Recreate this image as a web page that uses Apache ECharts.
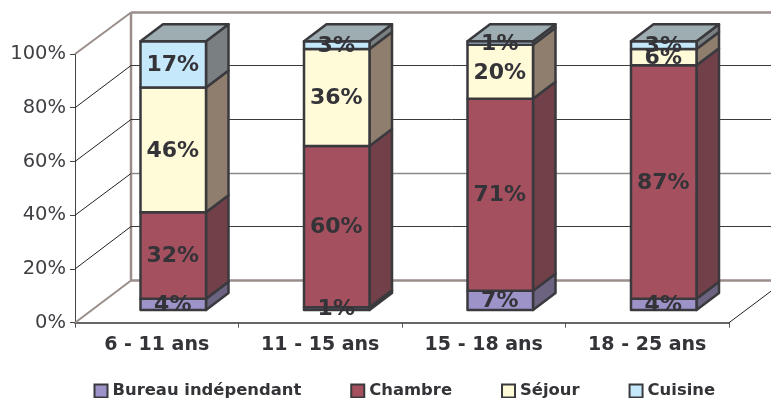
<!DOCTYPE html>
<html>
<head>
<meta charset="utf-8">
<style>html,body{margin:0;padding:0;background:#fff}#c{width:771px;height:398px}</style>
<script src="https://cdn.jsdelivr.net/npm/echarts@6/dist/echarts.min.js"></script>
</head>
<body>
<div id="c"></div>
<script>
const categories = ['6 - 11 ans', '11 - 15 ans', '15 - 18 ans', '18 - 25 ans'];
const bureau = [4.2, 1.0, 7.2, 4.2];
const chambre = [32.2, 60.0, 71.4, 86.9];
const sejour = [46.4, 36.1, 20.1, 6.0];
const cuisine = [17.2, 2.9, 1.3, 2.9];
const tickValues = [0, 20, 40, 60, 80, 100];

const names = ['Bureau indépendant', 'Chambre', 'Séjour', 'Cuisine'];
const values = [bureau, chambre, sejour, cuisine];
const fronts = ['#9E93C8', '#A5505F', '#FFFAD8', '#C5E9FB'];
const sides = ['#6C6380', '#714049', '#8F7E6E', '#7A8081'];
const topFace = '#9EADB1';
const edge = '#3A3A3E';
const textColor = '#333338';
const wallColor = '#9A8E8A';
const FONT = '"DejaVu Sans", Verdana, sans-serif';

const WALL_DX = 56, WALL_DY = 42;
const BAR_DX = 16.5, BAR_DY = 12.7, BAR_HALF = 32.75, DEPTH_DX = 22.5, DEPTH_DY = 17;

const chart = echarts.init(document.getElementById('c'), null, {renderer: 'canvas'});

function line(x1, y1, x2, y2, color, width) {
  return {type: 'line', shape: {x1, y1, x2, y2}, style: {stroke: color, lineWidth: width}, silent: true};
}

function renderWall(params, api) {
  const cs = params.coordSys;
  const v = api.value(0);
  const y = api.coord([0, v])[1];
  const x0 = cs.x, x1 = cs.x + cs.width;
  const strong = v === 0 || v === 100;
  const yBack = Math.floor(y - WALL_DY) + 0.5;
  const children = [
    line(x0, y, x0 + WALL_DX, yBack, strong ? wallColor : '#222', strong ? 2 : 1),
    line(x0 + WALL_DX, yBack, x1 + WALL_DX, yBack, strong ? wallColor : (v === 40 ? '#8a8a8a' : '#3a3a3a'), strong ? 2.5 : (v === 40 ? 1.5 : 1))
  ];
  if (v === 0) {
    children.push(line(x0 + WALL_DX, yBack, x0 + WALL_DX, cs.y - WALL_DY, wallColor, 2.5));
    children.push(line(x1, y, x1 + WALL_DX, y - WALL_DY, '#222', 1));
  }
  return {type: 'group', children};
}

function makeRender(idx) {
  return function (params, api) {
    const c = api.value(0), lo = api.value(1), hi = api.value(2);
    const a = api.coord([c, lo]), b = api.coord([c, hi]);
    const xl = a[0] + BAR_DX - BAR_HALF, xr = a[0] + BAR_DX + BAR_HALF;
    const yb = a[1] - BAR_DY, yt = b[1] - BAR_DY;
    const st = (f) => ({fill: f, stroke: edge, lineWidth: 2.5, lineJoin: 'round'});
    const children = [
      {type: 'polygon', shape: {points: [[xr, yb], [xr + DEPTH_DX, yb - DEPTH_DY], [xr + DEPTH_DX, yt - DEPTH_DY], [xr, yt]]}, style: st(sides[idx])},
      {type: 'rect', shape: {x: xl, y: yt, width: xr - xl, height: yb - yt}, style: st(fronts[idx])}
    ];
    if (idx === values.length - 1) {
      children.push({type: 'polygon', shape: {points: [[xl, yt], [xl + DEPTH_DX, yt - DEPTH_DY], [xr + DEPTH_DX, yt - DEPTH_DY], [xr, yt]]}, style: st(topFace)});
    }
    return {type: 'group', children};
  };
}

function renderLabel(params, api) {
  const c = api.value(0), lo = api.value(1), hi = api.value(2), val = api.value(3);
  const a = api.coord([c, (lo + hi) / 2]);
  return {
    type: 'text', silent: true,
    style: {
      text: Math.round(val) + '%', x: a[0] + BAR_DX - 0.5, y: a[1] - BAR_DY + 1,
      align: 'center', verticalAlign: 'middle',
      fill: textColor, font: 'bold 22px ' + FONT
    }
  };
}

const stacked = values.map((arr, idx) => arr.map((v, c) => {
  let base = 0;
  for (let k = 0; k < idx; k++) base += values[k][c];
  return [c, base, base + v, v];
}));

const series = [{
  type: 'custom', name: 'wall', z: 1, silent: true,
  coordinateSystem: 'cartesian2d',
  renderItem: renderWall,
  encode: {y: 0},
  data: tickValues.map(v => [v])
}];
values.forEach((arr, idx) => {
  series.push({
    type: 'custom', name: names[idx], z: 2 + idx,
    coordinateSystem: 'cartesian2d',
    renderItem: makeRender(idx),
    encode: {x: 0, y: [1, 2]},
    itemStyle: {color: fronts[idx], borderColor: edge, borderWidth: 2.5},
    data: stacked[idx]
  });
});
values.forEach((arr, idx) => {
  series.push({
    type: 'custom', name: 'label' + idx, z: 20, silent: true,
    coordinateSystem: 'cartesian2d',
    renderItem: renderLabel,
    encode: {x: 0, y: [1, 2]},
    data: stacked[idx]
  });
});

chart.setOption({
  animation: false,
  backgroundColor: '#fff',
  grid: {left: 75, right: 42, top: 54, height: 268.7, containLabel: false},
  legend: {
    show: true, left: 93.5, top: 383, padding: 0,
    itemWidth: 13, itemHeight: 13, itemGap: 49,
    icon: 'rect',
    data: names,
    selectedMode: false,
    textStyle: {fontFamily: FONT, fontWeight: 'bold', fontSize: 16.4, color: textColor}
  },
  xAxis: {
    type: 'category', data: categories,
    axisLine: {show: true, lineStyle: {color: '#666', width: 2}},
    axisTick: {show: true, length: 5, alignWithLabel: false, lineStyle: {color: '#555', width: 1}},
    axisLabel: {fontFamily: FONT, fontWeight: 'bold', fontSize: 19, color: textColor, margin: 13, interval: 0},
    splitLine: {show: false}
  },
  yAxis: {
    type: 'value', min: 0, max: 100, interval: 20,
    axisLine: {show: true, lineStyle: {color: '#444', width: 1}},
    axisTick: {show: true, length: 5, lineStyle: {color: '#444', width: 1}},
    axisLabel: {fontFamily: FONT, fontSize: 19.5, color: '#3f3f44', margin: 9, formatter: '{value}%'},
    splitLine: {show: false}
  },
  series
});
</script>
</body>
</html>
